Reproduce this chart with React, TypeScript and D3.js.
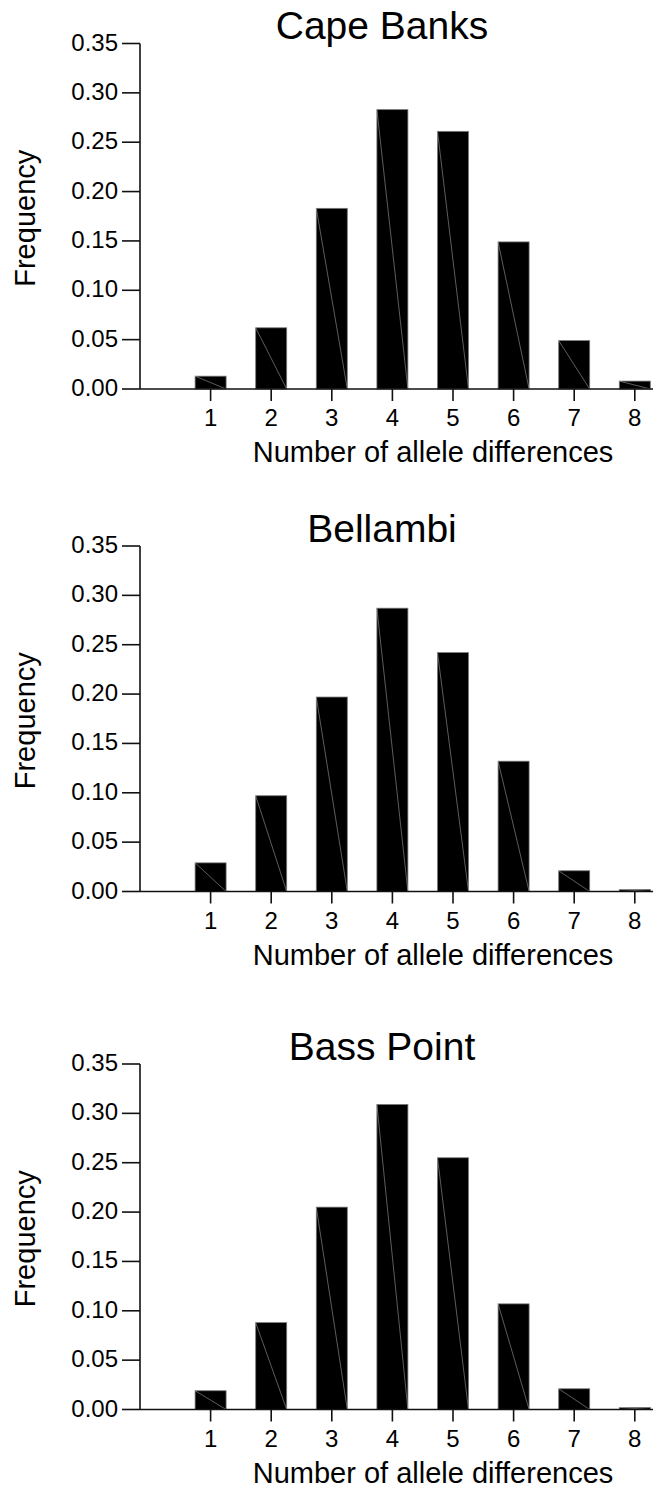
import React from "react";
import * as d3 from "d3";

// allele difference classes
const categories = [1, 2, 3, 4, 5, 6, 7, 8];

// frequencies
const capeBanks = [0.013, 0.062, 0.183, 0.283, 0.261, 0.149, 0.049, 0.008];
const bellambi = [0.029, 0.097, 0.197, 0.287, 0.242, 0.132, 0.021, 0.002];
const bassPoint = [0.019, 0.088, 0.205, 0.309, 0.255, 0.107, 0.021, 0.002];

const siteNames = ["Cape Banks", "Bellambi", "Bass Point"];
const yTicks = [0, 0.05, 0.1, 0.15, 0.2, 0.25, 0.3, 0.35];

const W = 653;
const H = 1490;
const panelTops = [0, 502.5, 1020.5];
const font = "'Liberation Sans', Arial, sans-serif";

function Panel({ title, values, top }: { title: string; values: number[]; top: number }) {
  const x = d3.scaleLinear().domain([0, 8]).range([150, 634.8]);
  const y = d3.scaleLinear().domain([0, 0.35]).range([389, 43.5]);
  const barW = 31;
  const axisX = 140;
  const fmt = d3.format(".2f");

  return (
    <g transform={`translate(0,${top})`} fontFamily={font}>
      <text x={382} y={39} textAnchor="middle" fontSize={39} fill="#000">
        {title}
      </text>

      {values.map((v, i) => {
        const cx = x(categories[i]);
        const x0 = cx - barW / 2;
        const y0 = y(v);
        const h = y(0) - y0;
        return (
          <g key={i}>
            <rect x={x0} y={y0} width={barW} height={h} fill="#000" stroke="#777" strokeWidth={0.8} />
            <line x1={x0} y1={y0} x2={x0 + barW} y2={y(0)} stroke="#9a9a9a" strokeWidth={0.6} />
          </g>
        );
      })}

      {/* y axis */}
      <line x1={axisX} x2={axisX} y1={y(0.35)} y2={y(0)} stroke="#111" strokeWidth={1.6} />
      {yTicks.map((t) => (
        <g key={t}>
          <line x1={122} x2={axisX} y1={y(t)} y2={y(t)} stroke="#111" strokeWidth={1.6} />
          <text x={118} y={y(t) + 7} textAnchor="end" fontSize={24} fill="#000">
            {fmt(t)}
          </text>
        </g>
      ))}
      <text
        transform={`translate(35,${(y(0) + y(0.35)) / 2 + 2}) rotate(-90)`}
        textAnchor="middle"
        fontSize={29}
        fill="#000"
      >
        Frequency
      </text>

      {/* x axis */}
      <line x1={axisX} x2={W} y1={y(0)} y2={y(0)} stroke="#111" strokeWidth={1.6} />
      {categories.map((c) => (
        <g key={c}>
          <line x1={x(c)} x2={x(c)} y1={y(0)} y2={y(0) + 12} stroke="#111" strokeWidth={1.6} />
          <text x={x(c)} y={y(0) + 37} textAnchor="middle" fontSize={24} fill="#000">
            {c}
          </text>
        </g>
      ))}
      <text x={433} y={y(0) + 73} textAnchor="middle" fontSize={29} fill="#000">
        Number of allele differences
      </text>
    </g>
  );
}

export default function App() {
  const series = [capeBanks, bellambi, bassPoint];
  return (
    <svg
      width={W}
      height={H}
      style={{ position: "absolute", left: 0, top: 0, background: "#fff" }}
    >
      <rect width={W} height={H} fill="#fff" />
      {series.map((vals, i) => (
        <Panel key={siteNames[i]} title={siteNames[i]} values={vals} top={panelTops[i]} />
      ))}
    </svg>
  );
}
